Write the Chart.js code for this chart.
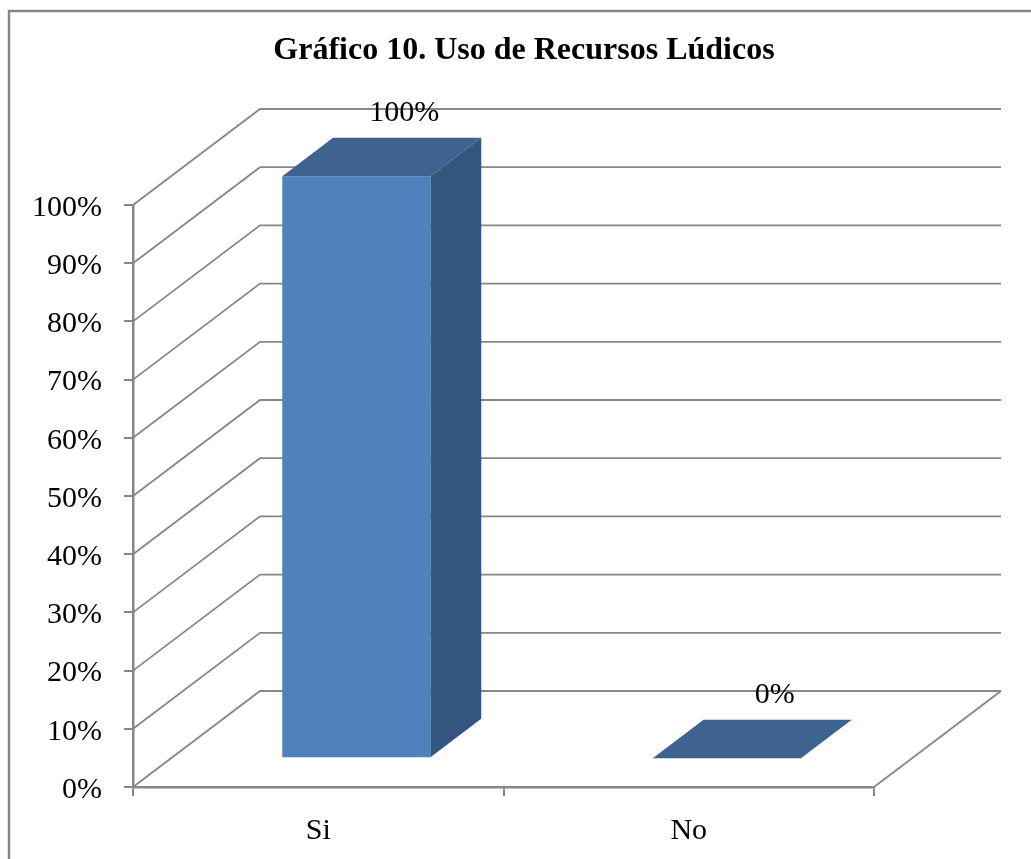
<!DOCTYPE html>
<html>
<head>
<meta charset="utf-8">
<title>Gráfico 10. Uso de Recursos Lúdicos</title>
<script src="https://cdn.jsdelivr.net/npm/chart.js@4.4.1/dist/chart.umd.min.js"></script>
<style>
    html, body { margin: 0; padding: 0; background: #ffffff; }
    #wrap { position: relative; width: 1031px; height: 859px; }
</style>
</head>
<body>
<div id="wrap"><canvas id="usoRecursosChart"></canvas></div>
<script>
// Chart data
const chartTitle = 'Gráfico 10. Uso de Recursos Lúdicos';
const categories = ['Si', 'No'];
const porcentajes = [1, 0];
const yTicks = [0, 0.1, 0.2, 0.3, 0.4, 0.5, 0.6, 0.7, 0.8, 0.9, 1];

const serif = "'Times New Roman', 'Liberation Serif', serif";
const gridColor = '#878787';
const frontColor = '#4F81BD';
const topColor = '#3D6390';
const sideColor = '#33557E';

// depth of the 3D box (pixels from front plane to back wall)
const DX = 127;
const DY = 96;
const BAR_FRONT = 0.3;
const BAR_BACK = 0.7;

const pct = v => Math.round(v * 100) + '%';

// Draws frame, title, walls, floor and the extra faces of the bars
const pseudo3d = {
    id: 'pseudo3d',
    beforeDraw(chart) {
        const ctx = chart.ctx;
        ctx.save();
        ctx.strokeStyle = gridColor;
        ctx.lineWidth = 2.5;
        ctx.strokeRect(9, 11, 1200, 1000);
        // title
        ctx.fillStyle = '#000000';
        ctx.font = 'bold 32px ' + serif;
        ctx.textAlign = 'center';
        ctx.textBaseline = 'middle';
        ctx.fillText(chartTitle, 524, 51);
        ctx.restore();
    },
    beforeDatasetsDraw(chart) {
        const { ctx, chartArea, scales } = chart;
        ctx.save();
        ctx.strokeStyle = gridColor;
        ctx.lineWidth = 1.8;
        yTicks.forEach(v => {
            const yf = scales.y.getPixelForValue(v);
            ctx.beginPath();
            ctx.moveTo(chartArea.left, yf);
            ctx.lineTo(chartArea.left + DX, yf - DY);
            ctx.lineTo(chartArea.right + DX, yf - DY);
            ctx.stroke();
        });
        // right edge of the floor
        ctx.beginPath();
        ctx.moveTo(chartArea.right, chartArea.bottom);
        ctx.lineTo(chartArea.right + DX, chartArea.bottom - DY);
        ctx.stroke();
        ctx.restore();
    },
    beforeDatasetDraw(chart) {
        chart.ctx.save();
        chart.ctx.translate(DX * BAR_FRONT, -DY * BAR_FRONT);
    },
    afterDatasetDraw(chart) {
        chart.ctx.restore();
    },
    afterDatasetsDraw(chart) {
        const ctx = chart.ctx;
        const meta = chart.getDatasetMeta(0);
        const fx = DX * BAR_FRONT, fy = -DY * BAR_FRONT;
        const dx = DX * (BAR_BACK - BAR_FRONT), dy = DY * (BAR_BACK - BAR_FRONT);
        ctx.save();
        meta.data.forEach((bar, i) => {
            const L = bar.x - bar.width / 2 + fx;
            const R = bar.x + bar.width / 2 + fx;
            const T = bar.y + fy;
            const B = bar.base + fy;
            // top face
            ctx.fillStyle = topColor;
            ctx.beginPath();
            ctx.moveTo(L, T);
            ctx.lineTo(R, T);
            ctx.lineTo(R + dx, T - dy);
            ctx.lineTo(L + dx, T - dy);
            ctx.closePath();
            ctx.fill();
            // side face
            if (B - T > 0.5) {
                ctx.fillStyle = sideColor;
                ctx.beginPath();
                ctx.moveTo(R, T);
                ctx.lineTo(R + dx, T - dy);
                ctx.lineTo(R + dx, B - dy);
                ctx.lineTo(R, B);
                ctx.closePath();
                ctx.fill();
            }
            // value label
            ctx.fillStyle = '#000000';
            ctx.font = '30px ' + serif;
            ctx.textAlign = 'center';
            ctx.textBaseline = 'middle';
            ctx.fillText(pct(porcentajes[i]), bar.x + 86, bar.y - 92);
        });
        ctx.restore();
    }
};

const ctx = document.getElementById('usoRecursosChart').getContext('2d');
new Chart(ctx, {
    type: 'bar',
    data: {
        labels: categories,
        datasets: [{
            data: porcentajes,
            backgroundColor: frontColor,
            borderWidth: 0,
            categoryPercentage: 1,
            barPercentage: 0.4,
            clip: false
        }]
    },
    options: {
        responsive: true,
        maintainAspectRatio: false,
        animation: false,
        layout: {
            padding: { left: 0, right: 157, top: 205, bottom: 0 }
        },
        plugins: {
            legend: { display: false },
            tooltip: { enabled: false },
            title: { display: false }
        },
        scales: {
            x: {
                offset: true,
                grid: {
                    offset: true,
                    drawOnChartArea: false,
                    color: gridColor,
                    lineWidth: 2,
                    tickLength: 9
                },
                border: { color: gridColor, width: 2.5 },
                ticks: {
                    color: '#000000',
                    padding: 17,
                    font: { family: serif, size: 30 }
                },
                afterFit(scale) { scale.height = 72; }
            },
            y: {
                min: 0,
                max: 1,
                afterBuildTicks(scale) {
                    scale.ticks = yTicks.map(v => ({ value: v }));
                },
                grid: {
                    drawOnChartArea: false,
                    color: gridColor,
                    lineWidth: 2,
                    tickLength: 9
                },
                border: { color: gridColor, width: 2.5 },
                ticks: {
                    color: '#000000',
                    padding: 22,
                    labelOffset: 3,
                    font: { family: serif, size: 30 },
                    callback: v => pct(v)
                },
                afterFit(scale) { scale.width = 133; }
            }
        }
    },
    plugins: [pseudo3d]
});
</script>
</body>
</html>
